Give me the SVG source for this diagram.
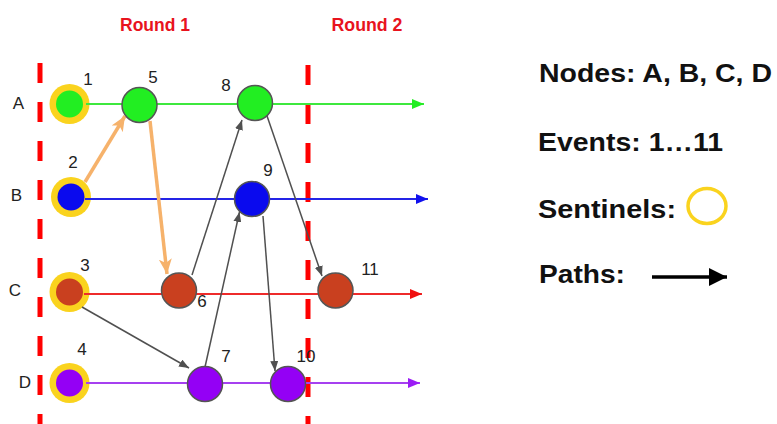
<svg xmlns="http://www.w3.org/2000/svg" width="777" height="424" viewBox="0 0 777 424">
<defs>
<style>
.round{font-family:"Liberation Sans",Arial,sans-serif;font-weight:bold;font-size:18px;fill:#e8131d;text-anchor:middle}
.lane-label{font-family:"Liberation Sans",Arial,sans-serif;font-size:17px;fill:#222;text-anchor:middle}
.num{font-family:"Liberation Sans",Arial,sans-serif;font-size:17px;fill:#222;text-anchor:middle}
.legend{font-family:"Liberation Sans",Arial,sans-serif;font-weight:bold;font-size:26px;fill:#111}
.divider{stroke:#ff0000;stroke-width:5;stroke-dasharray:20 19;fill:none}
.lane{stroke-width:2;fill:none}
.ring{fill:#fad31e}
.event{stroke:#555;stroke-width:1.5}
.gray{stroke:#505050;stroke-width:1.5;fill:none;marker-end:url(#mGray)}
.orange{stroke:#f6b26b;stroke-width:3.5;fill:none;marker-end:url(#mOrange)}
</style>
<marker id="mGray" markerUnits="userSpaceOnUse" markerWidth="10" markerHeight="8" refX="10" refY="4" orient="auto"><path d="M0,0 L10,4 L0,8 Z" fill="#505050"/></marker>
<marker id="mOrange" markerUnits="userSpaceOnUse" markerWidth="15" markerHeight="13" refX="15" refY="6.5" orient="auto"><path d="M0,0 L15,6.5 L0,13 L4,6.5 Z" fill="#f6b26b"/></marker>
<marker id="mGreen" markerUnits="userSpaceOnUse" markerWidth="12" markerHeight="10" refX="12" refY="5" orient="auto"><path d="M0,0 L12,5 L0,10 Z" fill="#22ee22"/></marker>
<marker id="mBlue" markerUnits="userSpaceOnUse" markerWidth="12" markerHeight="10" refX="12" refY="5" orient="auto"><path d="M0,0 L12,5 L0,10 Z" fill="#1010ee"/></marker>
<marker id="mRed" markerUnits="userSpaceOnUse" markerWidth="12" markerHeight="10" refX="12" refY="5" orient="auto"><path d="M0,0 L12,5 L0,10 Z" fill="#f01010"/></marker>
<marker id="mPurple" markerUnits="userSpaceOnUse" markerWidth="12" markerHeight="10" refX="12" refY="5" orient="auto"><path d="M0,0 L12,5 L0,10 Z" fill="#9b1cf5"/></marker>
<marker id="mBlack" markerUnits="userSpaceOnUse" markerWidth="18" markerHeight="18" refX="18" refY="9" orient="auto"><path d="M0,0 L18,9 L0,18 Z" fill="#000"/></marker>
</defs>
<rect width="777" height="424" fill="#fff"/>

<g id="headers">
<text class="round" x="155" y="31" textLength="70" lengthAdjust="spacingAndGlyphs">Round 1</text>
<text class="round" x="367" y="31" textLength="71" lengthAdjust="spacingAndGlyphs">Round 2</text>
</g>

<g id="dividers">
<line class="divider" x1="40" y1="63" x2="40" y2="424"/>
<line class="divider" x1="308" y1="65" x2="308" y2="424"/>
</g>

<g id="lane-labels">
<text class="lane-label" x="18.5" y="109">A</text>
<text class="lane-label" x="16.5" y="201">B</text>
<text class="lane-label" x="15" y="296">C</text>
<text class="lane-label" x="25" y="388">D</text>
</g>

<g id="sentinels">
<g id="sentinel-A"><circle class="ring" cx="69.5" cy="104" r="20"/><circle cx="69.5" cy="104" r="13.5" fill="#22ee22"/></g>
<g id="sentinel-B"><circle class="ring" cx="71" cy="197" r="20"/><circle cx="71" cy="197" r="13.5" fill="#0a0aee"/></g>
<g id="sentinel-C"><circle class="ring" cx="69.5" cy="292" r="20"/><circle cx="69.5" cy="292" r="13.5" fill="#c9401f"/></g>
<g id="sentinel-D"><circle class="ring" cx="69.5" cy="383" r="20"/><circle cx="69.5" cy="383" r="13.5" fill="#9400f5"/></g>
</g>

<g id="lanes">
<line class="lane" x1="86" y1="104" x2="424" y2="104" stroke="#3ee83e" marker-end="url(#mGreen)"/>
<line class="lane" x1="85" y1="199" x2="428" y2="199" stroke="#2424e6" marker-end="url(#mBlue)"/>
<line class="lane" x1="84" y1="294" x2="422" y2="294" stroke="#ee2b2b" marker-end="url(#mRed)"/>
<line class="lane" x1="86" y1="383" x2="420" y2="383" stroke="#a640f0" marker-end="url(#mPurple)"/>
</g>

<g id="connectors">
<line class="orange" x1="85" y1="182" x2="125" y2="116"/>
<line class="orange" x1="150" y1="121" x2="167" y2="274"/>
<line class="gray" x1="192" y1="275" x2="242" y2="120"/>
<line class="gray" x1="82" y1="307" x2="189" y2="368"/>
<line class="gray" x1="205" y1="367" x2="239.5" y2="212"/>
<line class="gray" x1="263" y1="216" x2="275" y2="371"/>
<line class="gray" x1="266" y1="113" x2="322" y2="276"/>
</g>

<g id="events">
<g id="e1"><text class="num" x="88" y="85">1</text></g>
<g id="e2"><text class="num" x="73" y="168">2</text></g>
<g id="e3"><text class="num" x="85" y="271">3</text></g>
<g id="e4"><text class="num" x="82" y="355">4</text></g>
<g id="e5"><circle class="event" cx="139.5" cy="105" r="17.5" fill="#22ee22"/><text class="num" x="153" y="83">5</text></g>
<g id="e6"><circle class="event" cx="179" cy="290.5" r="17.5" fill="#c9401f"/><text class="num" x="202" y="307">6</text></g>
<g id="e7"><circle class="event" cx="205" cy="384" r="17.5" fill="#9400f5"/><text class="num" x="226" y="362">7</text></g>
<g id="e8"><circle class="event" cx="255" cy="103" r="17.5" fill="#22ee22"/><text class="num" x="226" y="91">8</text></g>
<g id="e9"><circle class="event" cx="252" cy="199" r="17.5" fill="#0a0aee"/><text class="num" x="268" y="176">9</text></g>
<g id="e10"><circle class="event" cx="288" cy="384" r="17.5" fill="#9400f5"/><text class="num" x="306" y="362">10</text></g>
<g id="e11"><circle class="event" cx="335.5" cy="290.5" r="17.5" fill="#c9401f"/><text class="num" x="370" y="275">11</text></g>
</g>

<g id="legend">
<text class="legend" x="539" y="82" textLength="233" lengthAdjust="spacingAndGlyphs">Nodes: A, B, C, D</text>
<text class="legend" x="538" y="151" textLength="185" lengthAdjust="spacingAndGlyphs">Events: 1…11</text>
<text class="legend" x="538" y="218" textLength="138" lengthAdjust="spacingAndGlyphs">Sentinels:</text>
<ellipse cx="707" cy="206" rx="19" ry="17.5" fill="none" stroke="#fad31e" stroke-width="3.5"/>
<text class="legend" x="539" y="283" textLength="86" lengthAdjust="spacingAndGlyphs">Paths:</text>
<line x1="652" y1="277" x2="727" y2="277" stroke="#000" stroke-width="3.5" marker-end="url(#mBlack)"/>
</g>
</svg>
